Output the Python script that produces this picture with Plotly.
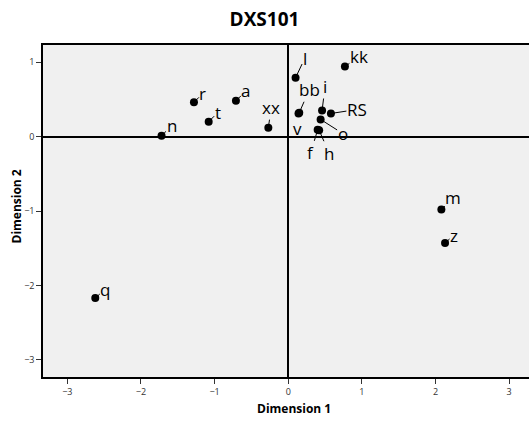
import plotly.graph_objects as go

labels = ["n", "r", "t", "a", "xx", "l", "kk", "bb", "v", "i", "RS", "o", "f", "h", "m", "z", "q"]
dim1 = [-1.72, -1.28, -1.08, -0.71, -0.27, 0.10, 0.77, 0.15, 0.14, 0.46, 0.58, 0.44, 0.40, 0.42, 2.08, 2.13, -2.62]
dim2 = [0.01, 0.46, 0.20, 0.48, 0.12, 0.79, 0.94, 0.32, 0.31, 0.35, 0.31, 0.23, 0.09, 0.085, -0.98, -1.43, -2.17]

# label offsets in pixels (styling)
label_dx = [10, 9, 9, 10, 3, 9, 14, 10, -1, 3, 26, 22, -7, 10, 12, 9, 10]
label_dy = [-10, -9, -9, -10, -20, -19, -10, -23, 15, -24, -4, 14, 23, 23, -12, -8, -9]

xticks = [-3, -2, -1, 0, 1, 2, 3]
yticks = [-3, -2, -1, 0, 1]

FONT = "Open Sans, DejaVu Sans, sans-serif"

fig = go.Figure()
fig.add_trace(go.Scatter(
    x=dim1, y=dim2, mode="markers",
    marker=dict(color="black", size=8),
    hoverinfo="text", text=labels, showlegend=False,
))

for lab, x, y, dx, dy in zip(labels, dim1, dim2, label_dx, label_dy):
    fig.add_annotation(
        x=x, y=y, text=lab, showarrow=True, arrowhead=0, arrowwidth=1,
        arrowcolor="black", ax=dx, ay=dy, standoff=3, borderpad=0,
        font=dict(family=FONT, size=17, color="black"),
    )

# axis titles as annotations (pixel-placed relative to plot area)
fig.add_annotation(text="<b>Dimension 1</b>", xref="paper", yref="paper",
                   x=(294 - 43) / (529 - 43), y=-(408 - 377) / (377 - 45),
                   xanchor="center", yanchor="middle", showarrow=False,
                   font=dict(family=FONT, size=12, color="black"))
fig.add_annotation(text="<b>Dimension 2</b>", xref="paper", yref="paper",
                   x=-(43 - 15.5) / (529 - 43), y=(377 - 207) / (377 - 45),
                   xanchor="center", yanchor="middle", showarrow=False, textangle=-90,
                   font=dict(family=FONT, size=12, color="black"))

fig.update_layout(
    width=529, height=422,
    margin=dict(l=43, r=0, t=45, b=45, autoexpand=False),
    paper_bgcolor="white", plot_bgcolor="#f0f0f0",
    title=dict(text="<b>DXS101</b>", x=0.5, xanchor="center", yref="container",
               y=1 - 19 / 422, yanchor="middle", automargin=False,
               font=dict(family=FONT, size=19, color="black")),
    font=dict(family=FONT, color="#333"),
)
fig.update_xaxes(
    range=[-3.33, 3.27], tickvals=xticks, ticks="outside", ticklen=5, tickcolor="#333",
    showgrid=False, zeroline=True, zerolinecolor="black", zerolinewidth=1.5,
    showline=True, linecolor="black", linewidth=1.5, mirror=True, automargin=False,
    tickfont=dict(size=9, color="#333"),
)
fig.update_yaxes(
    range=[-3.23, 1.23], tickvals=yticks, ticks="outside", ticklen=5, tickcolor="#333",
    showgrid=False, zeroline=True, zerolinecolor="black", zerolinewidth=1.5,
    showline=True, linecolor="black", linewidth=1.5, mirror=True, automargin=False,
    tickfont=dict(size=9, color="#333"),
)

fig.write_html("out.html", config={"displayModeBar": False},
               post_script="document.body.style.margin='0';document.body.style.overflow='hidden';")
